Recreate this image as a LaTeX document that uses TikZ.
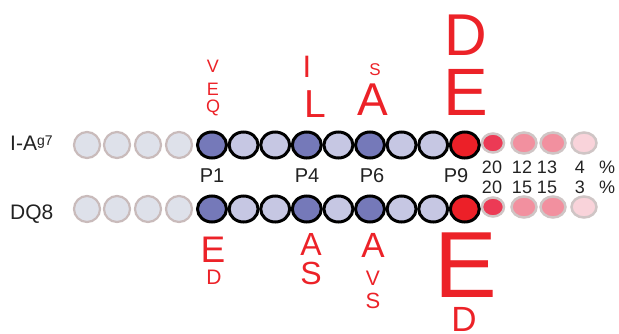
\documentclass[tikz,border=0pt]{standalone}
\usepackage{fontspec}
\setmainfont{Liberation Sans}
\usetikzlibrary{shapes.geometric}
\definecolor{redtxt}{RGB}{236,34,40}
\definecolor{dkblue}{RGB}{117,121,185}
\definecolor{ltblue}{RGB}{198,199,227}
\definecolor{greyfill}{RGB}{222,225,234}
\definecolor{greyedge}{RGB}{201,187,187}
\definecolor{pinkedge}{RGB}{207,197,197}
\definecolor{pinkA}{RGB}{236,58,85}
\definecolor{pinkB}{RGB}{242,144,159}
\definecolor{pinkC}{RGB}{249,211,218}
\definecolor{p9red}{RGB}{236,32,40}
\definecolor{txt}{RGB}{34,34,34}
\tikzset{
  resid/.style={ellipse, draw=black, line width=3pt, inner sep=0pt, minimum width=29pt, minimum height=26pt},
  greyres/.style={circle, draw=greyedge, fill=greyfill, line width=2.2pt, inner sep=0pt, minimum size=26pt},
  pinkres/.style={ellipse, draw=pinkedge, line width=2.5pt, inner sep=0pt, minimum width=25pt, minimum height=21pt},
  rl/.style={text=redtxt, anchor=base, inner sep=0pt, font=\fontsize{#1}{#1}\selectfont},
  lab/.style={text=txt, anchor=base, inner sep=0pt, font=\fontsize{#1}{#1}\selectfont},
}
\begin{document}
\begin{tikzpicture}[x=1pt,y=-1pt]
\useasboundingbox (0,0) rectangle (619,333);
% row labels
\node[lab=21, anchor=base west] (ia) at (10,150) {I-A{\fontsize{14}{14}\selectfont\raisebox{5pt}{g7}}};
\node[lab=21, anchor=base west] (dq) at (10,219) {DQ8};
% rows
\foreach \r/\y in {t/145, b/209} {
  \foreach \i/\x in {1/87, 2/117, 3/148, 4/179} {
    \node[greyres] (\r g\i) at (\x,\y) {};
  }
  \foreach \i/\c in {1/dkblue, 2/ltblue, 3/ltblue, 4/dkblue, 5/ltblue, 6/dkblue, 7/ltblue, 8/ltblue, 9/p9red} {
    \node[resid, fill=\c] (\r p\i) at ({212+31.6*(\i-1)},\y) {};
  }
  \node[pinkres, fill=pinkA, minimum width=22pt, minimum height=19pt] (\r k1) at (493,\y-2) {};
  \node[pinkres, fill=pinkB] (\r k2) at (524,\y-2) {};
  \node[pinkres, fill=pinkB] (\r k3) at (553,\y-2) {};
  \node[pinkres, fill=pinkC] (\r k4) at (584,\y-2) {};
}
% position labels
\node[lab=20] (l1) at (212,182) {P1};
\node[lab=20] (l4) at (307,182) {P4};
\node[lab=20] (l6) at (372,182) {P6};
\node[lab=20] (l9) at (456,182) {P9};
% percentages
\node[lab=18] (n11) at (492,173) {20};
\node[lab=18] (n12) at (522,173) {12};
\node[lab=18] (n13) at (547,173) {13};
\node[lab=18] (n14) at (580,173) {4};
\node[lab=18] (n15) at (607,173) {\%};
\node[lab=18] (n21) at (492,193) {20};
\node[lab=18] (n22) at (522,193) {15};
\node[lab=18] (n23) at (547,193) {15};
\node[lab=18] (n24) at (580,193) {3};
\node[lab=18] (n25) at (607,193) {\%};
% top letters (I-Ag7)
\node[rl=18] (a1) at (213,72) {V};
\node[rl=18] (a2) at (213,95) {E};
\node[rl=18] (a3) at (213,112) {Q};
\node[rl=31] (a4) at (307,77) {I};
\node[rl=39] (a5) at (315,117) {L};
\node[rl=17] (a6) at (375,75) {S};
\node[rl=46] (a7) at (373,115) {A};
\node[rl=59] (a8) at (466,55) {D};
\node[rl=67] (a9) at (466,115) {E};
% bottom letters (DQ8)
\node[rl=37] (b1) at (213,262) {E};
\node[rl=21] (b2) at (214,284) {D};
\node[rl=32] (b3) at (311,255) {A};
\node[rl=32] (b4) at (311,284) {S};
\node[rl=35] (b5) at (373,257) {A};
\node[rl=21] (b6) at (373,285) {V};
\node[rl=22] (b7) at (373,308) {S};
\node[rl=94] (b8) at (466,297) {E};
\node[rl=35] (b9) at (464,331) {D};
\end{tikzpicture}
\end{document}
